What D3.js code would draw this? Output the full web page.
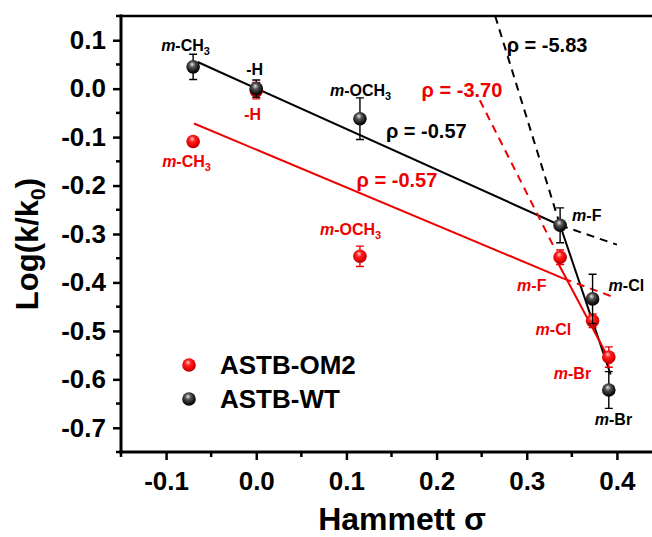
<!DOCTYPE html>
<html>
<head>
<meta charset="utf-8">
<script src="https://cdn.jsdelivr.net/npm/d3@7"></script>
<style>
  html, body { margin: 0; padding: 0; background: #fff; }
  svg { display: block; }
  text { font-family: "Liberation Sans", Arial, sans-serif; font-weight: bold; }
</style>
</head>
<body>
<svg id="chart" width="652" height="537"></svg>
<script>
// ---------------- data ----------------
const substituents = ["m-CH3", "-H", "m-OCH3", "m-F", "m-Cl", "m-Br"];
const sigma        = [-0.07, 0.0, 0.115, 0.337, 0.373, 0.391];
const wtLog        = [0.045, 0.0, -0.062, -0.282, -0.434, -0.622];
const wtErr        = [0.026, 0.018, 0.043, 0.036, 0.051, 0.038];
const om2Log       = [-0.109, -0.004, -0.346, -0.348, -0.479, -0.554];
const om2Err       = [0.004, 0.017, 0.021, 0.015, 0.014, 0.021];

const xTicks = [-0.1, 0.0, 0.1, 0.2, 0.3, 0.4];
const yTicks = [0.1, 0.0, -0.1, -0.2, -0.3, -0.4, -0.5, -0.6, -0.7];
const seriesNames = ["ASTB-OM2", "ASTB-WT"];

// fitted Hammett lines (endpoints in data units)
const wtFitLow   = [[-0.065, 0.055], [0.337, -0.282]];
const wtFitHigh  = [[0.337, -0.282], [0.393, -0.59]];
const wtExtLow   = [[0.337, -0.282], [0.40, -0.322]];
const wtExtHigh  = [[0.265, 0.15], [0.337, -0.282]];
const om2FitLow  = [[-0.069, -0.072], [0.341, -0.392]];
const om2FitHigh = [[0.331, -0.347], [0.394, -0.568]];
const om2ExtLow  = [[0.341, -0.392], [0.396, -0.43]];
const om2ExtHigh = [[0.248, -0.024], [0.331, -0.33]];

const rhoLabels = ["ρ = -5.83", "ρ = -3.70", "ρ = -0.57", "ρ = -0.57"];
const rhoAnchor = [[0.2777, 0.0757], [0.1834, -0.0162], [0.1438, -0.1019], [0.1113, -0.203]]; // data coords of text start/baseline

// ---------------- layout ----------------
const svg = d3.select("#chart");
const leftPx = 121, topPx = 16, bottomPx = 452, rightPx = 662;
const x = d3.scaleLinear().domain([-0.15, 0.45]).range([leftPx, rightPx]);
const y = d3.scaleLinear().domain([-0.75, 0.15]).range([bottomPx, topPx]);

const RED = "#ee0000", BLACK = "#000";
const fmt = v => d3.format(".1f")(v).replace("−", "-");

// gradients for 3D spheres
const defs = svg.append("defs");
const gRed = defs.append("radialGradient").attr("id", "gRed").attr("cx", "45%").attr("cy", "40%").attr("r", "60%").attr("fx", "42%").attr("fy", "30%");
gRed.append("stop").attr("offset", "0%").attr("stop-color", "#ffd0d0");
gRed.append("stop").attr("offset", "35%").attr("stop-color", "#ff2020");
gRed.append("stop").attr("offset", "80%").attr("stop-color", "#e00000");
gRed.append("stop").attr("offset", "100%").attr("stop-color", "#a00000");
const gBlk = defs.append("radialGradient").attr("id", "gBlk").attr("cx", "45%").attr("cy", "40%").attr("r", "60%").attr("fx", "42%").attr("fy", "30%");
gBlk.append("stop").attr("offset", "0%").attr("stop-color", "#e8e8e8");
gBlk.append("stop").attr("offset", "35%").attr("stop-color", "#555");
gBlk.append("stop").attr("offset", "80%").attr("stop-color", "#111");
gBlk.append("stop").attr("offset", "100%").attr("stop-color", "#000");

// ---------------- axes ----------------
const axisFont = 26;
const yAxis = svg.append("g").attr("transform", `translate(${leftPx},0)`)
  .call(d3.axisLeft(y).tickValues(yTicks).tickFormat(fmt).tickSize(8).tickPadding(7));
const xAxis = svg.append("g").attr("transform", `translate(0,${bottomPx})`)
  .call(d3.axisBottom(x).tickValues(xTicks).tickFormat(fmt).tickSize(8).tickPadding(12));
[xAxis, yAxis].forEach(a => {
  a.select(".domain").remove();
  a.selectAll(".tick line").attr("stroke", "#000").attr("stroke-width", 2.5);
  a.selectAll(".tick text").attr("font-size", axisFont).attr("font-family", "Liberation Sans, Arial, sans-serif").attr("font-weight", "bold").attr("fill", "#000");
});
// minor ticks
const yMinor = d3.range(-0.75, 0.151, 0.05).filter(v => !yTicks.some(t => Math.abs(t - v) < 1e-6));
const xMinor = d3.range(-0.15, 0.451, 0.05).filter(v => !xTicks.some(t => Math.abs(t - v) < 1e-6));
svg.append("g").selectAll("line").data(yMinor).join("line")
  .attr("x1", leftPx).attr("x2", leftPx - 5).attr("y1", d => y(d)).attr("y2", d => y(d))
  .attr("stroke", "#000").attr("stroke-width", 2.5);
svg.append("g").selectAll("line").data(xMinor).join("line")
  .attr("y1", bottomPx).attr("y2", bottomPx + 5).attr("x1", d => x(d)).attr("x2", d => x(d))
  .attr("stroke", "#000").attr("stroke-width", 2.5);
// frame lines
svg.append("line").attr("x1", leftPx).attr("x2", leftPx).attr("y1", topPx - 1.5).attr("y2", bottomPx + 1.5).attr("stroke", "#000").attr("stroke-width", 3);
svg.append("line").attr("x1", leftPx - 1.5).attr("x2", 652).attr("y1", bottomPx).attr("y2", bottomPx).attr("stroke", "#000").attr("stroke-width", 3);
svg.append("line").attr("x1", leftPx - 1.5).attr("x2", 652).attr("y1", topPx).attr("y2", topPx).attr("stroke", "#000").attr("stroke-width", 2.5);

// axis titles
svg.append("text").attr("x", 402).attr("y", 530).attr("text-anchor", "middle").attr("font-size", 32).text("Hammett σ");
const yt = svg.append("text").attr("transform", "translate(38,244) rotate(-90)").attr("text-anchor", "middle").attr("font-size", 31);
yt.append("tspan").text("Log(k/k");
yt.append("tspan").attr("font-size", 21).attr("dy", 7).text("0");
yt.append("tspan").attr("dy", -7).text(")");

// ---------------- fit lines ----------------
const line = d3.line().x(d => x(d[0])).y(d => y(d[1]));
const plotLines = [
  [wtFitLow, BLACK, null], [wtFitHigh, BLACK, null],
  [wtExtLow, BLACK, "8,6"], [wtExtHigh, BLACK, "8,6"],
  [om2FitLow, RED, null], [om2FitHigh, RED, null],
  [om2ExtLow, RED, "8,6"], [om2ExtHigh, RED, "8,6"]
];
svg.append("g").selectAll("path").data(plotLines).join("path")
  .attr("d", d => line(d[0])).attr("fill", "none")
  .attr("stroke", d => d[1]).attr("stroke-width", 2)
  .attr("stroke-dasharray", d => d[2]);

// ---------------- error bars + points ----------------
function drawSeries(vals, errs, color, grad) {
  const g = svg.append("g");
  const data = sigma.map((s, i) => ({ s, v: vals[i], e: errs[i] }));
  g.selectAll("path.err").data(data).join("path").attr("class", "err")
    .attr("d", d => {
      const cx = x(d.s), y1 = y(d.v + d.e), y2 = y(d.v - d.e);
      return `M${cx - 4},${y1}H${cx + 4}M${cx},${y1}V${y2}M${cx - 4},${y2}H${cx + 4}`;
    })
    .attr("stroke", color).attr("stroke-width", 1.4).attr("fill", "none");
  g.selectAll("circle").data(data).join("circle")
    .attr("cx", d => x(d.s)).attr("cy", d => y(d.v)).attr("r", 6.8)
    .attr("fill", `url(#${grad})`);
}
drawSeries(om2Log, om2Err, RED, "gRed");
drawSeries(wtLog, wtErr, BLACK, "gBlk");

// ---------------- point labels ----------------
const wtLabelOffset  = [[-32, -16], [-10, -14], [-30, -23], [12, -4], [16, -8], [-14, 35]];
const om2LabelOffset = [[-31, 26], [-12, 29], [-40, -21], [-43, 34], [-57, 14], [-55, 22]];
function addLabel(i, vals, offsets, color) {
  const name = substituents[i];
  const t = svg.append("text").attr("x", x(sigma[i]) + offsets[i][0]).attr("y", y(vals[i]) + offsets[i][1])
    .attr("font-size", 16).attr("fill", color);
  if (name.startsWith("m-")) {
    t.append("tspan").attr("font-style", "italic").text("m");
    const rest = name.slice(1);
    const m = rest.match(/^(.*?)(\d)$/);
    if (m) {
      t.append("tspan").text(m[1]);
      t.append("tspan").attr("font-size", 11).attr("dy", 4).text(m[2]);
    } else {
      t.append("tspan").text(rest);
    }
  } else {
    t.text(name);
  }
}
substituents.forEach((_, i) => { addLabel(i, wtLog, wtLabelOffset, BLACK); addLabel(i, om2Log, om2LabelOffset, RED); });

// ---------------- rho labels ----------------
const rhoColors = [BLACK, RED, BLACK, RED];
svg.append("g").selectAll("text").data(rhoLabels).join("text")
  .attr("x", (d, i) => x(rhoAnchor[i][0])).attr("y", (d, i) => y(rhoAnchor[i][1]))
  .attr("font-size", 20).attr("fill", (d, i) => rhoColors[i]).text(d => d);

// ---------------- legend ----------------
const legend = svg.append("g");
const legY = [365, 399];
const legGrad = ["gRed", "gBlk"];
seriesNames.forEach((n, i) => {
  legend.append("circle").attr("cx", 189).attr("cy", legY[i]).attr("r", 6.8).attr("fill", `url(#${legGrad[i]})`);
  legend.append("text").attr("x", 220).attr("y", legY[i] + 9).attr("font-size", 26).attr("fill", "#000").text(n);
});
</script>
</body>
</html>
